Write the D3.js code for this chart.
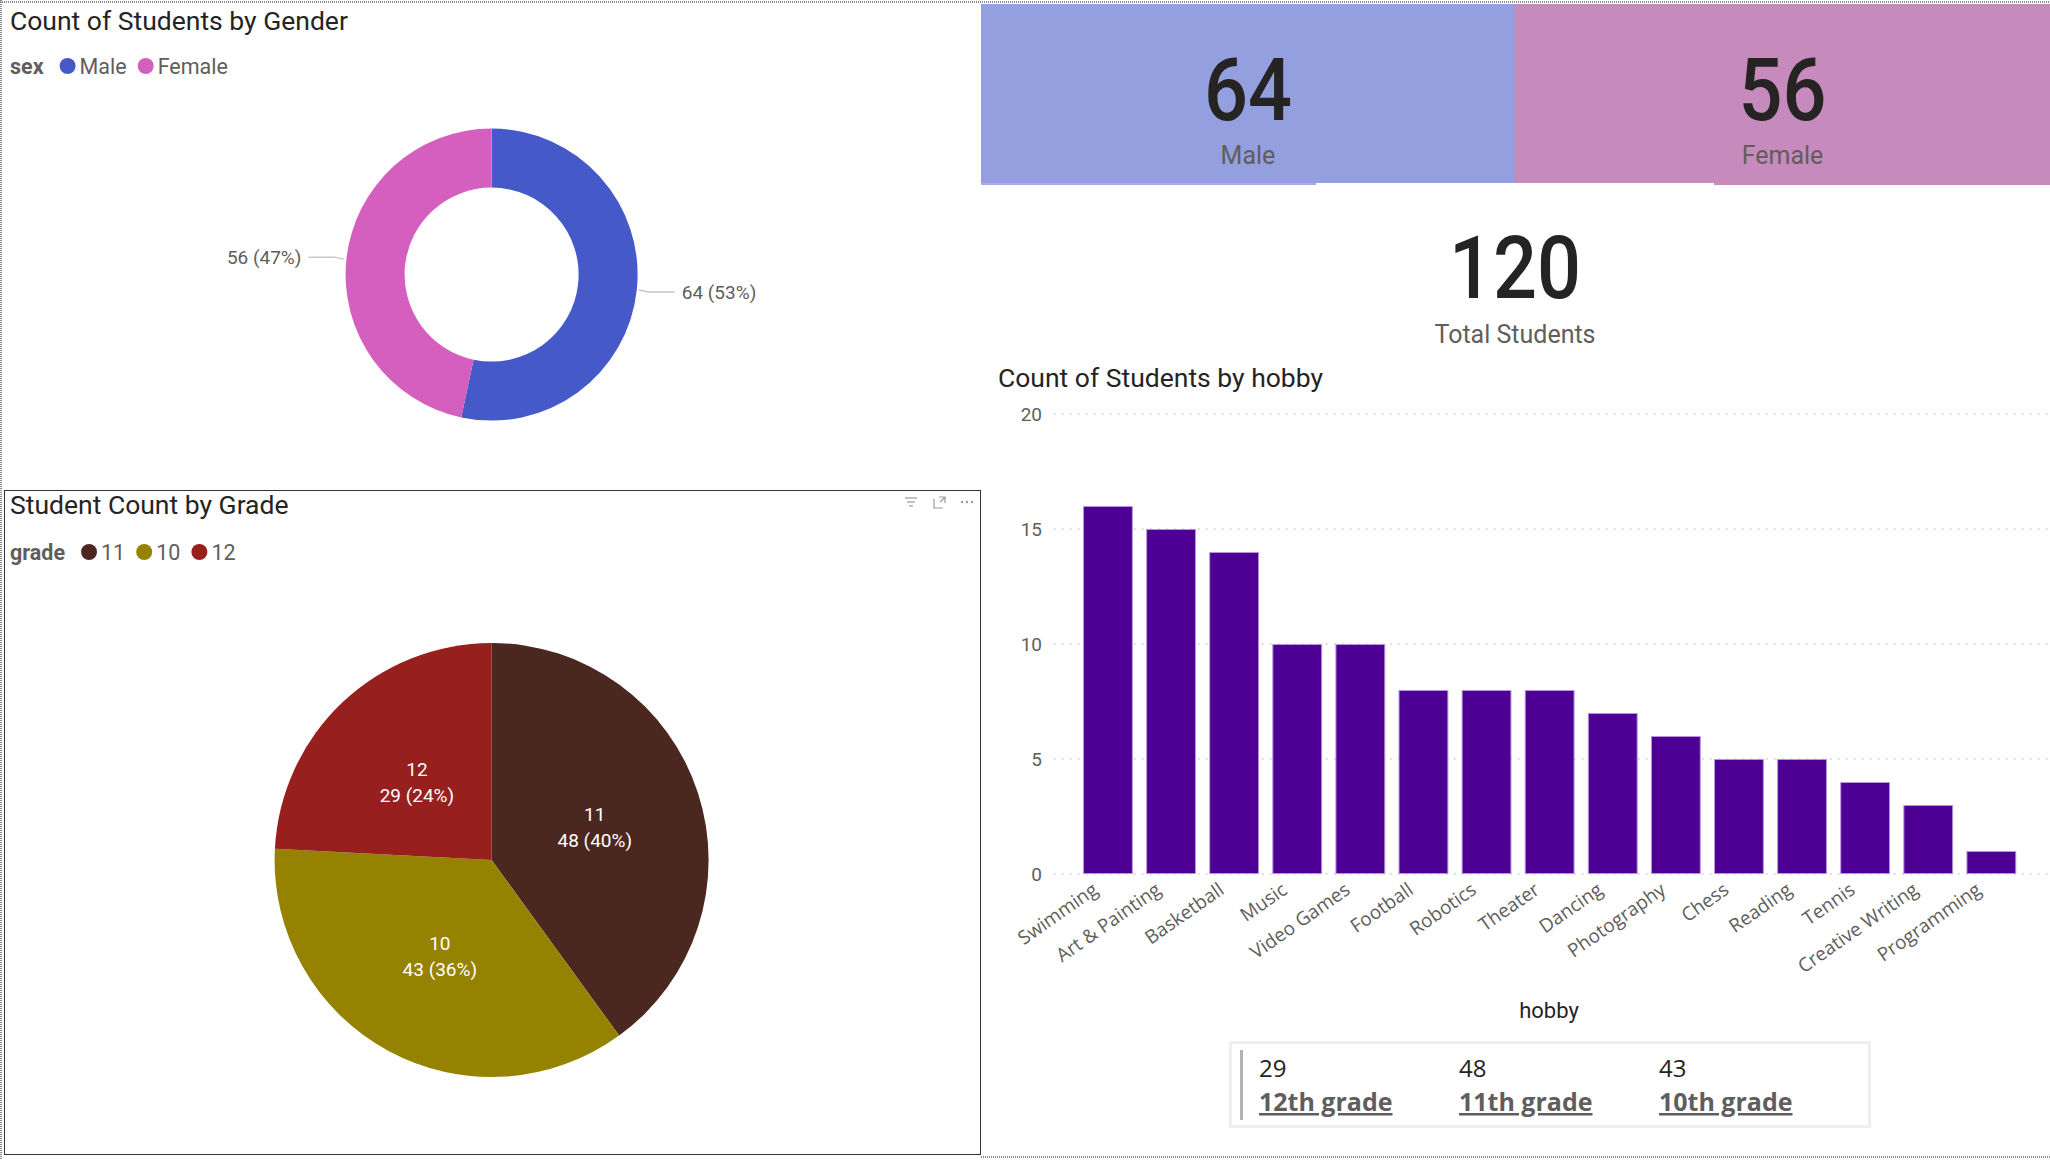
<!DOCTYPE html>
<html>
<head>
<meta charset="utf-8">
<script src="https://cdn.jsdelivr.net/npm/d3@7"></script>
<style>
  body { margin: 0; background: #fff; }
  svg { display: block; }
</style>
</head>
<body>
<div id="main"></div>
<script>
// data
var genderLabels = ["Male", "Female"];
var genderCounts = [64, 56];
var genderColors = ["#4659C8", "#D55FBF"];

var gradeLabels = ["11", "10", "12"];
var gradeCounts = [48, 43, 29];
var gradeColors = ["#4B281F", "#958200", "#97201E"];

var hobbies = ["Swimming", "Art & Painting", "Basketball", "Music", "Video Games", "Football", "Robotics",
  "Theater", "Dancing", "Photography", "Chess", "Reading", "Tennis", "Creative Writing", "Programming"];
var hobbyCounts = [16, 15, 14, 10, 10, 8, 8, 8, 7, 6, 5, 5, 4, 3, 1];
var yTicks = [0, 5, 10, 15, 20];

var cardGrades = ["12th grade", "11th grade", "10th grade"];
var cardCounts = [29, 48, 43];

var totalStudents = 120;

var din = "Roboto, 'Noto Sans', sans-serif";
var segoe = "'Open Sans', 'Noto Sans', sans-serif";
var grey = "#605E5C";
var dark = "#252423";

var W = 2050, H = 1160;
var svg = d3.select("#main").append("svg")
    .attr("width", W)
    .attr("height", H);

// ---------- frame / panel borders ----------
var dotted = "#8a8a8a";
svg.append("line").attr("x1", 0).attr("x2", W).attr("y1", 2).attr("y2", 2)
    .attr("stroke", dotted).attr("stroke-width", 2).attr("stroke-dasharray", "1,1");
svg.append("line").attr("x1", 1).attr("x2", 1).attr("y1", 0).attr("y2", H)
    .attr("stroke", dotted).attr("stroke-width", 2).attr("stroke-dasharray", "1,1");
svg.append("line").attr("x1", 981).attr("x2", W).attr("y1", 1157).attr("y2", 1157)
    .attr("stroke", dotted).attr("stroke-width", 2).attr("stroke-dasharray", "1,1");
svg.append("rect").attr("x", 4.5).attr("y", 490.5).attr("width", 976).attr("height", 664)
    .attr("fill", "none").attr("stroke", "#333").attr("stroke-width", 1);

function title(x, y, t) {
    svg.append("text").attr("x", x).attr("y", y).text(t)
        .attr("font-family", din).attr("font-size", 26.5).attr("fill", dark);
}

function legend(x, y, name, labels, colors) {
    var g = svg.append("g").attr("transform", "translate(" + x + "," + y + ")");
    var t = g.append("text").attr("y", 7.5).text(name)
        .attr("font-family", din).attr("font-weight", "bold").attr("font-size", 21.5).attr("fill", grey);
    var cx = t.node().getComputedTextLength() + 24;
    labels.forEach(function (l, i) {
        g.append("circle").attr("cx", cx).attr("cy", 0).attr("r", 8).attr("fill", colors[i]);
        var lt = g.append("text").attr("x", cx + 12).attr("y", 7.5).text(l)
            .attr("font-family", din).attr("font-size", 21.5).attr("fill", grey);
        cx += 12 + lt.node().getComputedTextLength() + 19;
    });
}

// ---------- donut: Count of Students by Gender ----------
title(10, 30, "Count of Students by Gender");
legend(10, 66, "sex", genderLabels, genderColors);

var dCx = 491.6, dCy = 274.6, dR = 146, dr = 87;
var genderTotal = d3.sum(genderCounts);
var donutData = d3.pie().sort(null)(genderCounts);
var donutArc = d3.arc().innerRadius(dr).outerRadius(dR);
var dg = svg.append("g").attr("transform", "translate(" + dCx + "," + dCy + ")");
dg.selectAll("path").data(donutData).enter().append("path")
    .attr("d", donutArc)
    .attr("fill", function (d, i) { return genderColors[i]; });

donutData.forEach(function (d, i) {
    var a = (d.startAngle + d.endAngle) / 2;
    var x0 = Math.sin(a) * (dR + 2), y0 = -Math.cos(a) * (dR + 2);
    var side = Math.sin(a) >= 0 ? 1 : -1;
    var x1 = x0 + side * 10, y1 = y0 + 2 * side;
    var x2 = x1 + side * 26;
    dg.append("polyline")
        .attr("points", [[x0, y0], [x1, y1], [x2, y1]].map(function (p) { return p.join(","); }).join(" "))
        .attr("fill", "none").attr("stroke", "#c8c8c8").attr("stroke-width", 1.5);
    dg.append("text")
        .attr("x", x2 + side * 7).attr("y", y1 + 6.5)
        .attr("text-anchor", side > 0 ? "start" : "end")
        .attr("font-family", din).attr("font-size", 19).attr("fill", grey)
        .text(genderCounts[i] + " (" + Math.round(genderCounts[i] / genderTotal * 100) + "%)");
});

// ---------- pie: Student Count by Grade ----------
title(10, 514, "Student Count by Grade");
legend(10, 552, "grade", gradeLabels, gradeColors);

// visual header icons
var ic = svg.append("g").attr("stroke", "#9a9a9a").attr("fill", "none").attr("stroke-width", 1.2);
[[905, 917], [907, 915], [909, 913]].forEach(function (p, i) {
    ic.append("line").attr("x1", p[0]).attr("x2", p[1]).attr("y1", 498 + i * 4).attr("y2", 498 + i * 4);
});
ic.append("path").attr("d", "M934,499 v9 h9 M939,497 h6 v6 M945,497 l-5,5");
[962, 967, 972].forEach(function (x) {
    svg.append("circle").attr("cx", x).attr("cy", 502).attr("r", 1.2).attr("fill", "#9a9a9a");
});

var pCx = 491.6, pCy = 860, pR = 217;
var gradeTotal = d3.sum(gradeCounts);
var pieData = d3.pie().sort(null)(gradeCounts);
var pieArc = d3.arc().innerRadius(0).outerRadius(pR);
var labelArc = d3.arc().innerRadius(pR * 0.5).outerRadius(pR * 0.5);
var pg = svg.append("g").attr("transform", "translate(" + pCx + "," + pCy + ")");
pg.selectAll("path").data(pieData).enter().append("path")
    .attr("d", pieArc)
    .attr("fill", function (d, i) { return gradeColors[i]; });

pieData.forEach(function (d, i) {
    var c = labelArc.centroid(d);
    var t = pg.append("text").attr("text-anchor", "middle")
        .attr("font-family", din).attr("font-size", 19).attr("fill", "#fff");
    t.append("tspan").attr("x", c[0]).attr("y", c[1] - 5).text(gradeLabels[i]);
    t.append("tspan").attr("x", c[0]).attr("y", c[1] + 21)
        .text(gradeCounts[i] + " (" + Math.round(gradeCounts[i] / gradeTotal * 100) + "%)");
});

// ---------- KPI cards ----------
var cards = [
    { x: 981, w: 534, fill: "#939FDF", edge: "#A4AEE6", ex: 981, ew: 335, value: genderCounts[0], label: genderLabels[0] },
    { x: 1515, w: 535, fill: "#C78ABC", edge: "#C78ABC", ex: 1714, ew: 336, value: genderCounts[1], label: genderLabels[1] }
];
cards.forEach(function (c) {
    svg.append("rect").attr("x", c.x).attr("y", 4).attr("width", c.w).attr("height", 179).attr("fill", c.fill);
    svg.append("rect").attr("x", c.ex).attr("y", 183).attr("width", c.ew).attr("height", 2).attr("fill", c.edge);
    var cx = c.x + c.w / 2;
    svg.append("text").attr("transform", "translate(" + cx + ",120) scale(0.88,1)")
        .attr("text-anchor", "middle").attr("font-family", din).attr("font-weight", 500)
        .attr("font-size", 88).attr("fill", dark).text(c.value);
    svg.append("text").attr("x", cx).attr("y", 164).attr("text-anchor", "middle")
        .attr("font-family", din).attr("font-size", 25).attr("fill", grey).text(c.label);
});
svg.append("line").attr("x1", 1515).attr("x2", 1515).attr("y1", 4).attr("y2", 183)
    .attr("stroke", "#b98bc4").attr("stroke-width", 1);

svg.append("text").attr("transform", "translate(1515,298) scale(0.88,1)")
    .attr("text-anchor", "middle").attr("font-family", din).attr("font-weight", 500)
    .attr("font-size", 88).attr("fill", dark).text(totalStudents);
svg.append("text").attr("x", 1515).attr("y", 343).attr("text-anchor", "middle")
    .attr("font-family", din).attr("font-size", 25).attr("fill", grey).text("Total Students");

// ---------- bar chart: Count of Students by hobby ----------
title(998, 387, "Count of Students by hobby");

var xScale = d3.scaleBand().domain(hobbies).range([1076.4, 2022.9]).paddingInner(0.21).paddingOuter(0.105);
var yScale = d3.scaleLinear().domain([0, 20]).range([874, 414]);

var grid = svg.append("g");
grid.selectAll("line").data(yTicks).enter().append("line")
    .attr("x1", 1054).attr("x2", W)
    .attr("y1", function (d) { return yScale(d); })
    .attr("y2", function (d) { return yScale(d); })
    .attr("stroke", "#c8c8c8").attr("stroke-width", 1.5).attr("stroke-dasharray", "1.5,6.5");

var yAxisG = svg.append("g").attr("transform", "translate(1042,0)")
    .call(d3.axisLeft(yScale).tickValues(yTicks).tickSize(0).tickPadding(0));
yAxisG.select(".domain").remove();
yAxisG.selectAll("text").attr("font-family", din).attr("font-size", 19).attr("fill", grey);

svg.append("g").selectAll("rect").data(hobbies).enter().append("rect")
    .attr("x", function (d) { return xScale(d) + 0.5; })
    .attr("y", function (d, i) { return yScale(hobbyCounts[i]) + 0.5; })
    .attr("width", xScale.bandwidth() - 1)
    .attr("height", function (d, i) { return yScale(0) - yScale(hobbyCounts[i]) - 1; })
    .attr("fill", "#4E0094")
    .attr("stroke", "#B596DC").attr("stroke-width", 1);

var xAxisG = svg.append("g").attr("transform", "translate(0,876)")
    .call(d3.axisBottom(xScale).tickSize(0).tickPadding(0));
xAxisG.select(".domain").remove();
xAxisG.selectAll("text")
    .attr("font-family", segoe).attr("font-size", 19).attr("fill", grey)
    .attr("text-anchor", "end")
    .attr("dy", "0.75em")
    .attr("transform", "translate(-17,5) rotate(-35)");

svg.append("text").attr("x", 1549).attr("y", 1018).attr("text-anchor", "middle")
    .attr("font-family", din).attr("font-size", 22).attr("fill", dark).text("hobby");

// ---------- multi-row card ----------
svg.append("rect").attr("x", 1230.5).attr("y", 1042.5).attr("width", 639).attr("height", 84)
    .attr("fill", "#fff").attr("stroke", "#efefef").attr("stroke-width", 3);
svg.append("rect").attr("x", 1240).attr("y", 1050).attr("width", 3).attr("height", 70).attr("fill", "#b3b3b3");
cardGrades.forEach(function (g, i) {
    var x = 1259 + i * 200;
    svg.append("text").attr("x", x).attr("y", 1077)
        .attr("font-family", segoe).attr("font-size", 24).attr("fill", dark).text(cardCounts[i]);
    svg.append("text").attr("x", x).attr("y", 1111)
        .attr("font-family", segoe).attr("font-size", 25).attr("font-weight", "bold")
        .attr("text-decoration", "underline").attr("fill", grey).text(g);
});
</script>
</body>
</html>
